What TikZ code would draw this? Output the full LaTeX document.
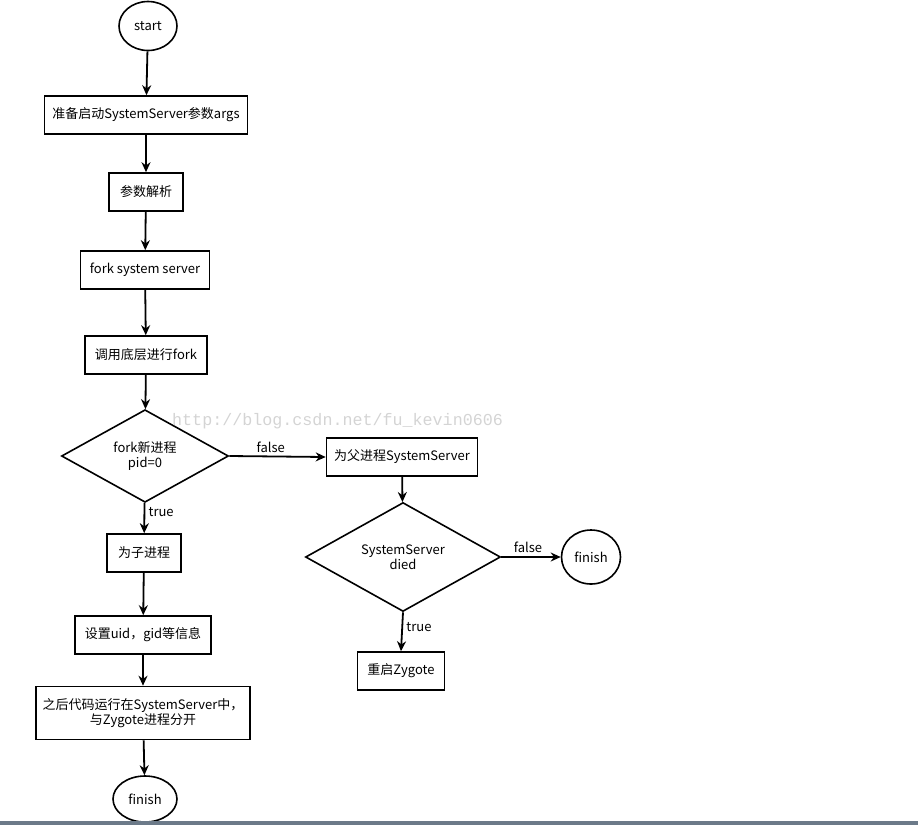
\documentclass[tikz,border=0pt]{standalone}
\usepackage{fontspec}
\setmainfont{Noto Sans CJK SC}
\newfontfamily\wmfont{Liberation Mono}
\usetikzlibrary{shapes.geometric,arrows.meta}

\definecolor{barGray}{RGB}{108,122,137}
\definecolor{markGray}{RGB}{212,212,212}

\tikzset{
  proc/.style={draw, line width=1.6pt, inner sep=0pt, minimum height=38pt, font=\fontsize{13}{15.5}\selectfont},
  decide/.style={draw, diamond, line width=1.6pt, inner sep=0pt, font=\fontsize{13}{15.5}\selectfont, align=center},
  term/.style={draw, ellipse, line width=1.6pt, inner sep=0pt, font=\fontsize{13}{15.5}\selectfont},
  flow/.style={-{Stealth[length=10pt,width=9pt]}, line width=1.8pt},
  cond/.style={font=\fontsize{13}{15.5}\selectfont}
}

\begin{document}
\begin{tikzpicture}[x=1pt,y=-1pt]
  \useasboundingbox (0,0) rectangle (918,825);

  % Draw the left column
  \node[term, minimum width=58pt, minimum height=49pt] (start) at (148,26) {start};
  \node[proc, minimum width=203pt] (args) at (146,115) {准备启动SystemServer参数args};
  \node[proc, minimum width=74pt] (parse) at (146,192) {参数解析};
  \node[proc, minimum width=129pt] (forksys) at (145,270) {fork system server};
  \node[proc, minimum width=122pt] (native) at (146,355) {调用底层进行fork};
  \node[decide, minimum width=167pt, minimum height=88pt] (pid) at (145,456) {fork新进程\\pid=0};
  \node[proc, minimum width=74pt] (child) at (144,553) {为子进程};
  \node[proc, minimum width=136pt] (setid) at (143,635) {设置uid，gid等信息};
  \node[proc, minimum width=214pt, minimum height=53pt, align=center] (split) at (143,713) {之后代码运行在SystemServer中，\\与Zygote进程分开};
  \node[term, minimum width=64pt, minimum height=46pt] (finishA) at (145,799) {finish};

  % Draw the right column
  \node[proc, minimum width=151pt] (parent) at (402,457) {为父进程SystemServer};
  \node[decide, minimum width=195pt, minimum height=95pt] (died) at (403,557) {SystemServer\\died};
  \node[term, minimum width=59pt, minimum height=54pt] (finishB) at (591,557) {finish};
  \node[proc, minimum width=87pt] (restart) at (401,671) {重启Zygote};

  % Draw the connectors
  \draw[flow] (start) -- (args);
  \draw[flow] (args) -- (parse);
  \draw[flow] (parse) -- (forksys);
  \draw[flow] (forksys) -- (native);
  \draw[flow] (native) -- (pid);
  \draw[flow] (pid) -- node[cond, right, pos=0.3] {true} (child);
  \draw[flow] (child) -- (setid);
  \draw[flow] (setid) -- (split);
  \draw[flow] (split) -- (finishA);
  \draw[flow] (pid.east) -- node[cond, above, pos=0.43] {false} (parent.west);
  \draw[flow] (parent) -- (died);
  \draw[flow] (died.east) -- node[cond, above, pos=0.45] {false} (finishB.west);
  \draw[flow] (died.south) -- node[cond, right, pos=0.38] {true} (restart.north);

  % Draw the watermark and the bottom bar
  \node[text=markGray, font=\wmfont\fontsize{16.7}{18}\selectfont, inner sep=0pt, anchor=west] (mark) at (172,421) {http://blog.csdn.net/fu\_kevin0606};
  \fill[barGray] (0,821) rectangle (918,825);
\end{tikzpicture}
\end{document}
